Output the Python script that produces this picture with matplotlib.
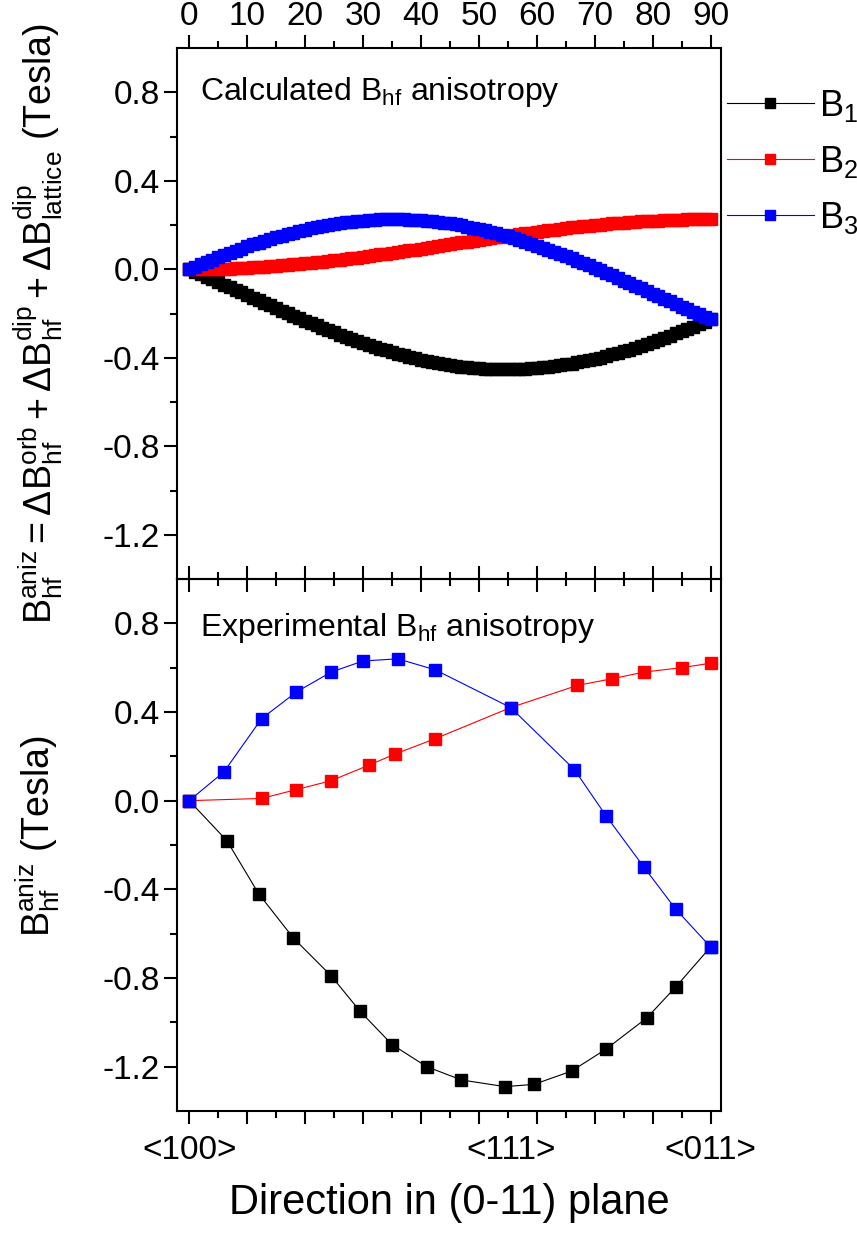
import numpy as np
import matplotlib
matplotlib.use('Agg')
import matplotlib.pyplot as plt
from matplotlib.ticker import MultipleLocator, FixedLocator

#------------------------------------------------------------------
# Calculated anisotropy (top panel), one value per degree 0..90
#------------------------------------------------------------------
calc_angle = np.arange(0, 91)

calc_b1 = [0.000, -0.011, -0.023, -0.034, -0.046, -0.057, -0.069, -0.081, -0.093, -0.104,
           -0.116, -0.128, -0.140, -0.152, -0.163, -0.175, -0.187, -0.198, -0.210, -0.221,
           -0.232, -0.243, -0.254, -0.264, -0.275, -0.285, -0.295, -0.305, -0.315, -0.324,
           -0.333, -0.342, -0.351, -0.359, -0.367, -0.375, -0.382, -0.389, -0.396, -0.402,
           -0.408, -0.414, -0.419, -0.424, -0.429, -0.433, -0.436, -0.440, -0.443, -0.445,
           -0.447, -0.449, -0.450, -0.451, -0.452, -0.452, -0.452, -0.451, -0.450, -0.448,
           -0.446, -0.444, -0.441, -0.438, -0.434, -0.430, -0.426, -0.421, -0.416, -0.411,
           -0.405, -0.399, -0.392, -0.385, -0.378, -0.371, -0.363, -0.355, -0.346, -0.338,
           -0.329, -0.319, -0.310, -0.300, -0.290, -0.280, -0.269, -0.259, -0.248, -0.237,
           -0.226]

calc_b2 = [0.000, 0.000, 0.000, 0.001, 0.001, 0.002, 0.002, 0.003, 0.004, 0.006,
           0.007, 0.008, 0.010, 0.011, 0.013, 0.015, 0.017, 0.019, 0.022, 0.024,
           0.026, 0.029, 0.032, 0.035, 0.037, 0.040, 0.043, 0.047, 0.050, 0.053,
           0.057, 0.060, 0.063, 0.067, 0.071, 0.074, 0.078, 0.082, 0.086, 0.089,
           0.093, 0.097, 0.101, 0.105, 0.109, 0.113, 0.117, 0.121, 0.125, 0.129,
           0.133, 0.137, 0.140, 0.144, 0.148, 0.152, 0.155, 0.159, 0.163, 0.166,
           0.170, 0.173, 0.176, 0.179, 0.183, 0.186, 0.189, 0.191, 0.194, 0.197,
           0.200, 0.202, 0.204, 0.207, 0.209, 0.211, 0.213, 0.215, 0.216, 0.218,
           0.219, 0.220, 0.222, 0.223, 0.224, 0.224, 0.225, 0.225, 0.226, 0.226,
           0.226]

calc_b3 = [0.000, 0.011, 0.022, 0.033, 0.043, 0.054, 0.064, 0.074, 0.084, 0.093,
           0.103, 0.112, 0.120, 0.129, 0.137, 0.145, 0.152, 0.159, 0.166, 0.173,
           0.179, 0.185, 0.190, 0.195, 0.200, 0.204, 0.208, 0.212, 0.215, 0.218,
           0.220, 0.222, 0.224, 0.225, 0.226, 0.226, 0.226, 0.225, 0.224, 0.223,
           0.221, 0.219, 0.217, 0.214, 0.210, 0.207, 0.203, 0.198, 0.193, 0.188,
           0.182, 0.176, 0.170, 0.163, 0.156, 0.149, 0.141, 0.133, 0.125, 0.116,
           0.107, 0.098, 0.089, 0.079, 0.069, 0.059, 0.049, 0.038, 0.028, 0.017,
           0.006, -0.005, -0.017, -0.028, -0.039, -0.051, -0.063, -0.075, -0.086, -0.098,
           -0.110, -0.122, -0.134, -0.145, -0.157, -0.169, -0.180, -0.192, -0.203, -0.215,
           -0.226]

#------------------------------------------------------------------
# Experimental anisotropy (bottom panel)
#------------------------------------------------------------------
exp_b1_angle = [0, 6.5, 12, 18, 24.5, 29.5, 35, 41, 47, 54.5, 59.5, 66, 72, 79, 84, 90]
exp_b1 = [0.0, -0.18, -0.42, -0.62, -0.79, -0.95, -1.10, -1.20, -1.26, -1.29,
          -1.28, -1.22, -1.12, -0.98, -0.84, -0.66]

exp_b2_angle = [0, 12.5, 18.5, 24.5, 31, 35.5, 42.5, 55.5, 67, 73, 78.5, 85, 90]
exp_b2 = [0.0, 0.01, 0.05, 0.09, 0.16, 0.21, 0.28, 0.42, 0.52, 0.55, 0.58, 0.60, 0.62]

exp_b3_angle = [0, 6, 12.5, 18.5, 24.5, 30, 36, 42.5, 55.5, 66.5, 72, 78.5, 84, 90]
exp_b3 = [0.0, 0.13, 0.37, 0.49, 0.58, 0.63, 0.64, 0.59, 0.42, 0.14, -0.07,
          -0.30, -0.49, -0.66]

dir_pos = [0, 55.5, 90]
dir_labels = ['<100>', '<111>', '<011>']

#------------------------------------------------------------------
plt.rcParams['font.family'] = 'Liberation Sans'
plt.rcParams['mathtext.fontset'] = 'custom'
plt.rcParams['mathtext.rm'] = 'Liberation Sans'
plt.rcParams['mathtext.it'] = 'Liberation Sans:italic'
plt.rcParams['mathtext.bf'] = 'Liberation Sans:bold'

W, H = 857.0, 1241.0
fig = plt.figure(figsize=(W / 100, H / 100), dpi=100)
left, right = 177, 721
ax1 = fig.add_axes([left / W, 1 - 579 / H, (right - left) / W, (579 - 48) / H])
ax2 = fig.add_axes([left / W, 1 - 1111 / H, (right - left) / W, (1111 - 579) / H])

colors = ['black', 'red', 'blue']
names = [r'$\mathregular{B_1}$', r'$\mathregular{B_2}$', r'$\mathregular{B_3}$']

for ys, c, nm in zip([calc_b1, calc_b2, calc_b3], colors, names):
    ax1.plot(calc_angle, ys, '-s', color=c, lw=0.8, ms=8.5, mec=c, label=nm)

for xs, ys, c in zip([exp_b1_angle, exp_b2_angle, exp_b3_angle],
                     [exp_b1, exp_b2, exp_b3], colors):
    ax2.plot(xs, ys, '-s', color=c, lw=0.8, ms=8, mec=c)

for ax in (ax1, ax2):
    ax.patch.set_visible(False)
    ax.set_xlim(-2.1, 91.8)
    ax.set_ylim(-1.4, 1.0)
    ax.xaxis.set_major_locator(MultipleLocator(10))
    ax.xaxis.set_minor_locator(FixedLocator(np.arange(5, 90, 10)))
    ax.yaxis.set_major_locator(FixedLocator([-1.2, -0.8, -0.4, 0.0, 0.4, 0.8]))
    ax.yaxis.set_minor_locator(FixedLocator([-1.0, -0.6, -0.2, 0.2, 0.6]))
    ax.set_yticklabels(['-1.2', '-0.8', '-0.4', '0.0', '0.4', '0.8'])
    for sp in ax.spines.values():
        sp.set_linewidth(1.5)
    ax.tick_params(axis='both', which='major', direction='out', length=9.5, width=1.5,
                   labelsize=24)
    ax.tick_params(axis='both', which='minor', direction='out', length=4.8, width=1.5)
    ax.tick_params(axis='y', which='both', left=True, right=False, pad=3)
    ax.tick_params(axis='x', which='both', top=True, bottom=True)

ax1.tick_params(axis='x', which='both', labeltop=True, labelbottom=False, pad=2)
ax2.tick_params(axis='x', which='both', labeltop=False, labelbottom=False)

for xp, lab in zip(dir_pos, dir_labels):
    ax2.text(xp, -0.075, lab, transform=ax2.get_xaxis_transform(),
             ha='center', va='center', fontsize=24)

ax1.text(0.042, 0.917, r'Calculated $\mathregular{B_{hf}}$ anisotropy',
         transform=ax1.transAxes, fontsize=23, ha='left', va='center')
ax2.text(0.042, 0.908, r'Experimental $\mathregular{B_{hf}}$ anisotropy',
         transform=ax2.transAxes, fontsize=23, ha='left', va='center')

fig.text(38 / W, 1 - 324 / H,
         r'$\mathregular{B_{hf}^{aniz} = \Delta B_{hf}^{orb}+\Delta B_{hf}^{dip}+\Delta B_{lattice}^{dip}}$ (Tesla)',
         rotation=90, ha='center', va='center', fontsize=27)
fig.text(38 / W, 1 - 836 / H, r'$\mathregular{B_{hf}^{aniz}}$ (Tesla)',
         rotation=90, ha='center', va='center', fontsize=27)
fig.text(449 / W, 1 - 1203 / H, 'Direction in (0-11) plane',
         ha='center', va='center', fontsize=30)

ax1.legend(loc='upper left', bbox_to_anchor=(727 / W, 1 - 88 / H),
           bbox_transform=fig.transFigure, frameon=False, fontsize=26,
           handlelength=2.4, handletextpad=0.15, borderpad=0, borderaxespad=0,
           labelspacing=0.55, markerscale=0.8)

fig.savefig('out.png', dpi=100)
